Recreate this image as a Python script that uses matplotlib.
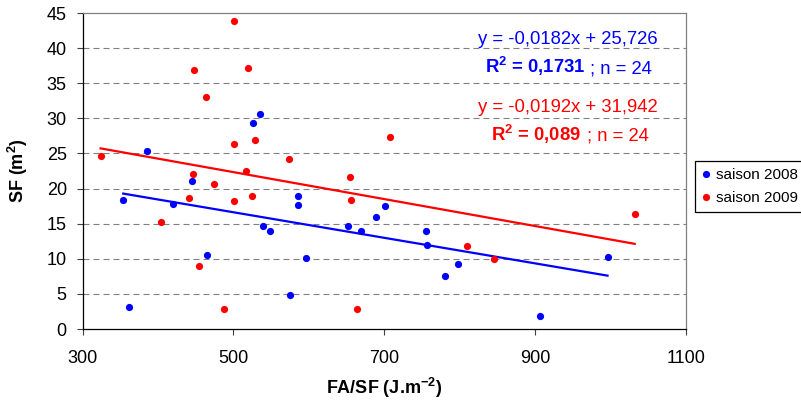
import matplotlib
matplotlib.use("Agg")
import matplotlib.pyplot as plt
import numpy as np

plt.rcParams['font.family'] = ['Liberation Sans', 'DejaVu Sans']
plt.rcParams['mathtext.fontset'] = 'custom'
plt.rcParams['mathtext.rm'] = 'Liberation Sans'
plt.rcParams['mathtext.bf'] = 'Liberation Sans:bold'

# ---- data ----
x2008 = [354, 362, 386, 420, 445, 465, 526, 535, 539, 548, 575, 586, 586, 596,
         652, 669, 689, 701, 756, 757, 781, 798, 906, 996]
y2008 = [18.3, 3.2, 25.4, 17.8, 21.1, 10.6, 29.3, 30.6, 14.7, 13.9, 4.9, 19.0, 17.6, 10.1,
         14.7, 13.9, 16.0, 17.5, 13.9, 12.0, 7.5, 9.2, 1.8, 10.3]
x2009 = [324, 404, 441, 447, 448, 454, 464, 474, 488, 501, 501, 501, 517, 520,
         525, 529, 574, 655, 656, 664, 707, 810, 846, 1032]
y2009 = [24.7, 15.2, 18.7, 22.1, 36.9, 9.0, 33.1, 20.6, 2.85, 43.8, 26.3, 18.2, 22.5, 37.1,
         19.0, 26.9, 24.2, 21.6, 18.3, 2.85, 27.3, 11.8, 9.9, 16.4]
fit2008 = (-0.0182, 25.726)
fit2009 = (-0.0192, 31.942)
labels = ['saison 2008', 'saison 2009']
xticks = [300, 500, 700, 900, 1100]
yticks = [0, 5, 10, 15, 20, 25, 30, 35, 40, 45]

W, H = 801, 401
fig = plt.figure(figsize=(W / 100, H / 100), dpi=100)
L, R, T, B = 82.5, 686, 13, 329
ax = fig.add_axes([L / W, 1 - B / H, (R - L) / W, (B - T) / H])

def px(x, y):
    return x / W, 1 - y / H

ax.set_xlim(300, 1100)
ax.set_ylim(0, 45)
for v in yticks[1:-1]:
    ax.axhline(v, color='#808080', lw=0.8, ls=(0, (5.4, 3.6)), zorder=1)

ax.plot(x2008, y2008, 'o', color='#0000FF', ms=5.2, mec='none', label=labels[0], zorder=3)
ax.plot(x2009, y2009, 'o', color='#FF0000', ms=5.2, mec='none', label=labels[1], zorder=3)

for xs, (a, b), c in [(x2008, fit2008, '#0000FF'), (x2009, fit2009, '#FF0000')]:
    xx = np.array([min(xs), max(xs)])
    ax.plot(xx, a * xx + b, color=c, lw=1.6, zorder=2)

ax.set_xticks(xticks)
ax.set_yticks(yticks)
ax.tick_params(direction='out', length=4.3, width=0.8, color='#404040', labelsize=13)
ax.tick_params(axis='y', pad=7)
ax.tick_params(axis='x', pad=10.5)
ax.spines['left'].set_color('black')
ax.spines['bottom'].set_color('black')
ax.spines['top'].set_color('#808080')
ax.spines['right'].set_color('#808080')
for s in ax.spines.values():
    s.set_linewidth(0.9)

ax.set_xlabel(r'FA/SF (J.m$^{\mathbf{-2}}$)', fontsize=13, fontweight='bold', va='center')
ax.xaxis.set_label_coords(0.5, (B - 388) / (B - T))
ax.set_ylabel(r'SF (m$^{\mathbf{2}}$)', fontsize=13, fontweight='bold', va='center')
ax.yaxis.set_label_coords((17.5 - L) / (R - L), 0.5)

fs = 13.3
fig.text(*px(658, 44.3), 'y = -0,0182x + 25,726', color='#0000FF', fontsize=fs, ha='right', va='baseline')
fig.text(*px(485, 73.3), r'$\mathbf{R^2}$ = 0,1731', color='#0000FF', fontsize=fs, fontweight='bold', ha='left', va='baseline')
fig.text(*px(590, 73.3), '; n = 24', color='#0000FF', fontsize=fs, ha='left', va='baseline')
fig.text(*px(658, 111.7), 'y = -0,0192x + 31,942', color='#FF0000', fontsize=fs, ha='right', va='baseline')
fig.text(*px(490.7, 140.7), r'$\mathbf{R^2}$ = 0,089', color='#FF0000', fontsize=fs, fontweight='bold', ha='left', va='baseline')
fig.text(*px(586.7, 140.7), '; n = 24', color='#FF0000', fontsize=fs, ha='left', va='baseline')

leg = fig.legend(loc='upper left', bbox_to_anchor=px(695, 161), fontsize=11,
                 frameon=True, fancybox=False, edgecolor='black', framealpha=1,
                 handlelength=0.5, handletextpad=0.45, borderpad=0.45, labelspacing=0.6,
                 borderaxespad=0, markerscale=1.0)
leg.get_frame().set_linewidth(0.9)

fig.savefig('out.png', dpi=100)
